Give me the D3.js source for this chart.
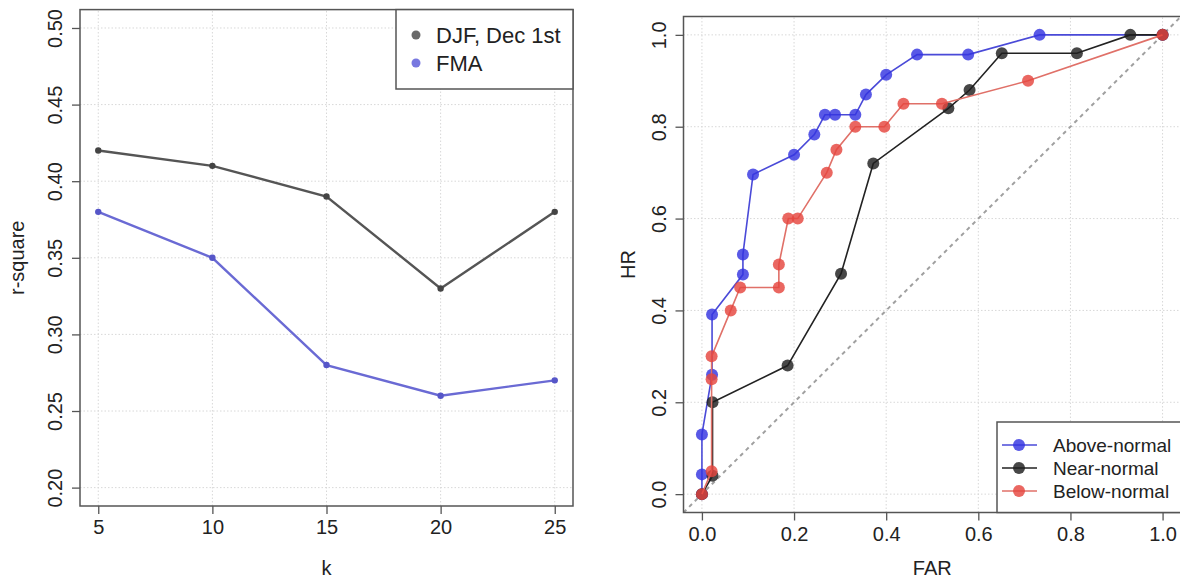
<!DOCTYPE html>
<html>
<head>
<meta charset="utf-8">
<script src="https://cdn.jsdelivr.net/npm/d3@7"></script>
<style>
  body { margin: 0; background: #fff; }
  svg text { font-family: "Liberation Sans", Arial, sans-serif; fill: #222; }
</style>
</head>
<body>
<div id="chart"></div>
<script>
// left panel: r-square vs k
const kValues = [5, 10, 15, 20, 25];
const djf = [0.42, 0.41, 0.39, 0.33, 0.38];
const fma = [0.38, 0.35, 0.28, 0.26, 0.27];
const leftYTicks = [0.20, 0.25, 0.30, 0.35, 0.40, 0.45, 0.50];

// right panel: ROC curves (FAR, HR)
const aboveFAR = [0, 0, 0, 0.022, 0.022, 0.089, 0.089, 0.111, 0.2, 0.244, 0.267, 0.289, 0.333, 0.356, 0.4, 0.467, 0.578, 0.733, 1];
const aboveHR  = [0, 0.043, 0.13, 0.26, 0.391, 0.478, 0.522, 0.696, 0.739, 0.783, 0.826, 0.826, 0.826, 0.87, 0.913, 0.957, 0.957, 1, 1];
const nearFAR  = [0, 0.023, 0.023, 0.186, 0.302, 0.372, 0.535, 0.581, 0.651, 0.814, 0.93, 1];
const nearHR   = [0, 0.04, 0.2, 0.28, 0.48, 0.72, 0.84, 0.88, 0.96, 0.96, 1, 1];
const belowFAR = [0, 0.021, 0.021, 0.021, 0.0625, 0.083, 0.167, 0.167, 0.1875, 0.208, 0.271, 0.292, 0.333, 0.396, 0.4375, 0.521, 0.708, 1];
const belowHR  = [0, 0.05, 0.25, 0.3, 0.4, 0.45, 0.45, 0.5, 0.6, 0.6, 0.7, 0.75, 0.8, 0.8, 0.85, 0.85, 0.9, 1];
const rocTicks = [0, 0.2, 0.4, 0.6, 0.8, 1.0];

const width = 1180, height = 581;
const svg = d3.select("#chart").append("svg")
	.attr("width", width)
	.attr("height", height);

const gridStyle = sel => sel
	.attr("stroke", "#d8d8d8")
	.attr("stroke-width", 1)
	.attr("stroke-dasharray", "1.5,2");

// ---------- left panel ----------
const xL = d3.scaleLinear().domain([4.2, 25.8]).range([80, 573]);
const yL = d3.scaleLinear().domain([0.188, 0.512]).range([506, 9.6]);

const left = svg.append("g");

left.selectAll("line.vg").data(kValues).join("line")
	.attr("x1", d => xL(d)).attr("x2", d => xL(d))
	.attr("y1", yL.range()[0]).attr("y2", yL.range()[1])
	.call(gridStyle);
left.selectAll("line.hg").data(leftYTicks).join("line")
	.attr("y1", d => yL(d)).attr("y2", d => yL(d))
	.attr("x1", xL.range()[0]).attr("x2", xL.range()[1])
	.call(gridStyle);

const xAxisL = left.append("g")
	.attr("transform", `translate(0,${yL.range()[0]})`)
	.call(d3.axisBottom(xL).tickValues(kValues).tickSize(8).tickPadding(6).tickFormat(d3.format("d")));
const yAxisL = left.append("g")
	.attr("transform", `translate(${xL.range()[0]},0)`)
	.call(d3.axisLeft(yL).tickValues(leftYTicks).tickSize(8).tickFormat(d3.format(".2f")));

const lineL = d3.line().x((d, i) => xL(kValues[i])).y(d => yL(d));
const leftSeries = [
	{ name: "DJF, Dec 1st", values: djf, color: "#555555", dot: "#444" },
	{ name: "FMA", values: fma, color: "#6a6ad4", dot: "#5656c8" }
];
leftSeries.forEach(s => {
	left.append("path").datum(s.values)
		.attr("d", lineL)
		.attr("fill", "none")
		.attr("stroke", s.color)
		.attr("stroke-width", 2.4);
	left.selectAll(null).data(s.values).join("circle")
		.attr("cx", (d, i) => xL(kValues[i]))
		.attr("cy", d => yL(d))
		.attr("r", 3.2)
		.attr("fill", s.dot);
});

left.append("rect")
	.attr("x", xL.range()[0]).attr("y", yL.range()[1])
	.attr("width", xL.range()[1] - xL.range()[0])
	.attr("height", yL.range()[0] - yL.range()[1])
	.attr("fill", "none").attr("stroke", "#555").attr("stroke-width", 1.5);

// legend left
const legL = left.append("g");
legL.append("rect")
	.attr("x", 396).attr("y", yL.range()[1])
	.attr("width", xL.range()[1] - 396).attr("height", 89 - yL.range()[1])
	.attr("fill", "#fff").attr("stroke", "#555").attr("stroke-width", 1.5);
leftSeries.forEach((s, i) => {
	legL.append("circle").attr("cx", 416).attr("cy", 35 + i * 28).attr("r", 4.5)
		.attr("fill", i === 0 ? "#6a6a6a" : "#7878e0");
	legL.append("text").attr("x", 436).attr("y", 35 + i * 28 + 8)
		.attr("font-size", 22).text(s.name);
});

left.append("text")
	.attr("x", (xL.range()[0] + xL.range()[1]) / 2).attr("y", 575)
	.attr("text-anchor", "middle").attr("font-size", 20).text("k");
left.append("text")
	.attr("transform", `translate(24,${(yL.range()[0] + yL.range()[1]) / 2}) rotate(-90)`)
	.attr("text-anchor", "middle").attr("font-size", 20).text("r-square");

// ---------- right panel ----------
const xR = d3.scaleLinear().domain([-0.04, 1.04]).range([683.5, 1181]);
const yR = d3.scaleLinear().domain([-0.04, 1.04]).range([512.5, 16.5]);

const right = svg.append("g");

right.selectAll("line.vg").data(rocTicks).join("line")
	.attr("x1", d => xR(d)).attr("x2", d => xR(d))
	.attr("y1", yR.range()[0]).attr("y2", yR.range()[1])
	.call(gridStyle);
right.selectAll("line.hg").data(rocTicks).join("line")
	.attr("y1", d => yR(d)).attr("y2", d => yR(d))
	.attr("x1", xR.range()[0]).attr("x2", xR.range()[1])
	.call(gridStyle);

const xAxisR = right.append("g")
	.attr("transform", `translate(0,${yR.range()[0]})`)
	.call(d3.axisBottom(xR).tickValues(rocTicks).tickSize(8).tickPadding(6).tickFormat(d3.format(".1f")));
const yAxisR = right.append("g")
	.attr("transform", `translate(${xR.range()[0]},0)`)
	.call(d3.axisLeft(yR).tickValues(rocTicks).tickSize(8).tickFormat(d3.format(".1f")));

right.append("defs").append("clipPath").attr("id", "clipR")
	.append("rect")
	.attr("x", xR.range()[0]).attr("y", yR.range()[1])
	.attr("width", xR.range()[1] - xR.range()[0])
	.attr("height", yR.range()[0] - yR.range()[1]);

// diagonal reference line
right.append("line")
	.attr("clip-path", "url(#clipR)")
	.attr("x1", xR(-0.04)).attr("y1", yR(-0.04))
	.attr("x2", xR(1.04)).attr("y2", yR(1.04))
	.attr("stroke", "#a0a0a0").attr("stroke-width", 2).attr("stroke-dasharray", "4,4");

const rocSeries = [
	{ name: "Above-normal", far: aboveFAR, hr: aboveHR, line: "#4a4ad8", dot: "#3434e0" },
	{ name: "Near-normal", far: nearFAR, hr: nearHR, line: "#222222", dot: "#1e1e1e" },
	{ name: "Below-normal", far: belowFAR, hr: belowHR, line: "#e07068", dot: "#e5463e" }
];
const lineR = d3.line().x(d => xR(d[0])).y(d => yR(d[1]));
rocSeries.forEach(s => {
	const pts = s.far.map((f, i) => [f, s.hr[i]]);
	right.append("path").datum(pts)
		.attr("d", lineR)
		.attr("fill", "none")
		.attr("stroke", s.line)
		.attr("stroke-width", 1.6);
	right.selectAll(null).data(pts).join("circle")
		.attr("cx", d => xR(d[0]))
		.attr("cy", d => yR(d[1]))
		.attr("r", 6)
		.attr("fill", s.dot)
		.attr("fill-opacity", 0.82);
});

right.append("rect")
	.attr("x", xR.range()[0]).attr("y", yR.range()[1])
	.attr("width", xR.range()[1] - xR.range()[0])
	.attr("height", yR.range()[0] - yR.range()[1])
	.attr("fill", "none").attr("stroke", "#555").attr("stroke-width", 1.5);

// legend right
const legR = right.append("g");
legR.append("rect")
	.attr("x", 997).attr("y", 422)
	.attr("width", xR.range()[1] - 997).attr("height", yR.range()[0] - 422)
	.attr("fill", "#fff").attr("stroke", "#555").attr("stroke-width", 1.5);
rocSeries.forEach((s, i) => {
	const cy = 445 + i * 23;
	legR.append("line").attr("x1", 1002).attr("x2", 1037).attr("y1", cy).attr("y2", cy)
		.attr("stroke", s.line).attr("stroke-width", 1.6);
	legR.append("circle").attr("cx", 1019).attr("cy", cy).attr("r", 6)
		.attr("fill", s.dot).attr("fill-opacity", 0.82);
	legR.append("text").attr("x", 1053).attr("y", cy + 7)
		.attr("font-size", 19).text(s.name);
});

right.append("text")
	.attr("x", (xR.range()[0] + xR.range()[1]) / 2).attr("y", 575)
	.attr("text-anchor", "middle").attr("font-size", 20).text("FAR");
right.append("text")
	.attr("transform", `translate(635,${(yR.range()[0] + yR.range()[1]) / 2}) rotate(-90)`)
	.attr("text-anchor", "middle").attr("font-size", 20).text("HR");

// shared axis styling: R-like ticks, vertical y labels
[xAxisL, yAxisL, xAxisR, yAxisR].forEach(ax => {
	ax.select(".domain").remove();
	ax.selectAll(".tick line").attr("stroke", "#555").attr("stroke-width", 1.3);
	ax.selectAll(".tick text").attr("font-size", 20).attr("fill", "#222")
		.attr("font-family", "Liberation Sans, Arial, sans-serif");
});
[yAxisL, yAxisR].forEach(ax => {
	ax.selectAll(".tick text")
		.attr("x", null).attr("dy", null)
		.attr("text-anchor", "middle")
		.attr("transform", "translate(-18,0) rotate(-90)")
		.attr("y", 0);
});
</script>
</body>
</html>
